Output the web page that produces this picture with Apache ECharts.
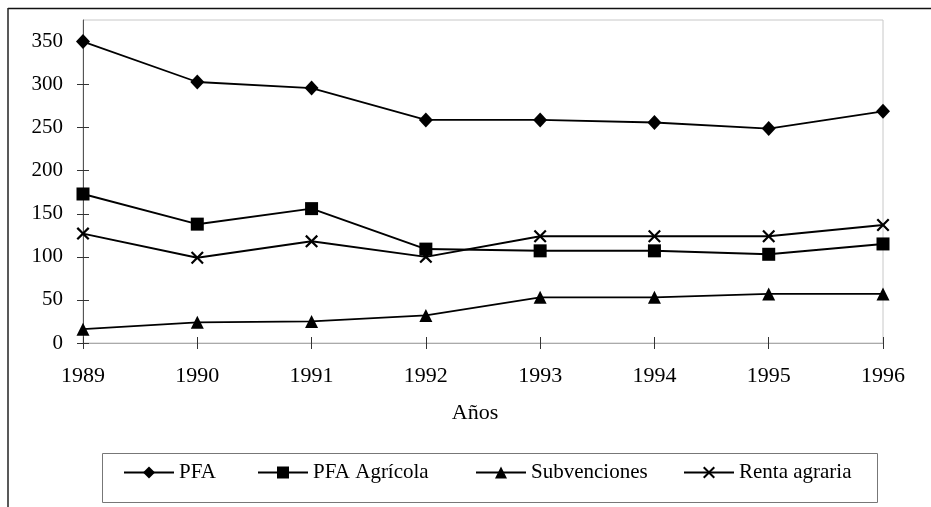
<!DOCTYPE html>
<html>
<head>
<meta charset="utf-8">
<script src="https://cdn.jsdelivr.net/npm/echarts@6/dist/echarts.min.js"></script>
<style>html,body{margin:0;padding:0;background:#fff}#c{width:931px;height:507px}</style>
</head>
<body>
<div id="c"></div>
<script>
var years = ['1989', '1990', '1991', '1992', '1993', '1994', '1995', '1996'];
var pfa = [350, 303, 296, 259, 259, 256, 249, 269];
var pfaAgricola = [173, 138, 156, 109, 107, 107, 103, 115];
var subvenciones = [16, 24, 25, 32, 53, 53, 57, 57];
var rentaAgraria = [127, 99, 118, 100, 124, 124, 124, 137];
var yTicks = [0, 50, 100, 150, 200, 250, 300, 350];
var seriesNames = ['PFA', 'PFA Agrícola', 'Subvenciones', 'Renta agraria'];

var FONT = '"Liberation Serif", "Times New Roman", serif';
var crossPath = 'path://M0,1.2 L1.2,0 L5,3.8 L8.8,0 L10,1.2 L6.2,5 L10,8.8 L8.8,10 L5,6.2 L1.2,10 L0,8.8 L3.8,5 Z';

function mkSeries(name, data, symbol, size, width) {
  return {
    name: name, type: 'line', data: data,
    xAxisIndex: 0, yAxisIndex: 0,
    symbol: symbol, symbolSize: size, showSymbol: true,
    lineStyle: { color: '#000', width: width },
    itemStyle: { color: '#000' },
    animation: false
  };
}

var legendLefts = [123, 257, 475, 683];
var legends = seriesNames.map(function (n, i) {
  return {
    data: [n], left: legendLefts[i], top: 462, padding: 0,
    itemWidth: 50, itemHeight: 15, itemGap: 0,
    textStyle: { fontFamily: FONT, fontSize: 21, color: '#000' },
    selectedMode: false
  };
});

var chart = echarts.init(document.getElementById('c'), null, { renderer: 'canvas' });
chart.setOption({
  backgroundColor: '#fff',
  animation: false,
  grid: { left: 83, right: 48, top: 20, bottom: 164, show: true, borderColor: '#c8c8c8', borderWidth: 1, containLabel: false },
  legend: legends,
  xAxis: [{
    type: 'category', data: years, boundaryGap: false,
    name: 'Años', nameLocation: 'middle', nameGap: 59,
    nameTextStyle: { fontFamily: FONT, fontSize: 22, color: '#000', padding: [0, 16, 0, 0] },
    axisLine: { show: true, lineStyle: { color: '#aaa', width: 1 } },
    axisTick: { show: true, inside: false, length: 6, alignWithLabel: true, lineStyle: { color: '#333' } },
    axisLabel: { fontFamily: FONT, fontSize: 22, color: '#000', margin: 22 },
    splitLine: { show: false }
  }, {
    type: 'category', data: years, boundaryGap: false, position: 'bottom',
    axisLine: { show: false },
    axisTick: { show: true, inside: true, length: 6, lineStyle: { color: '#333' } },
    axisLabel: { show: false },
    splitLine: { show: false }
  }],
  yAxis: [{
    type: 'value', min: 0, max: 375,
    axisLine: { show: true, lineStyle: { color: '#555', width: 1 } },
    axisTick: { show: true, inside: false, length: 6, customValues: yTicks, lineStyle: { color: '#333' } },
    axisLabel: { fontFamily: FONT, fontSize: 21, color: '#000', margin: 20, customValues: yTicks },
    splitLine: { show: false }
  }, {
    type: 'value', min: 0, max: 375, position: 'left',
    axisLine: { show: false },
    axisTick: { show: true, inside: true, length: 6, customValues: yTicks, lineStyle: { color: '#333' } },
    axisLabel: { show: false, customValues: yTicks },
    splitLine: { show: false }
  }],
  graphic: [
    { type: 'line', shape: { x1: 8, y1: 8.5, x2: 931, y2: 8.5 }, style: { stroke: '#111', lineWidth: 1.5 }, silent: true },
    { type: 'line', shape: { x1: 8, y1: 8, x2: 8, y2: 507 }, style: { stroke: '#222', lineWidth: 1.5 }, silent: true },
    { type: 'rect', shape: { x: 102.5, y: 453.5, width: 775, height: 49 }, style: { fill: 'none', stroke: '#777', lineWidth: 1 }, silent: true, z: -1 }
  ],
  series: [
    mkSeries(seriesNames[0], pfa, 'diamond', [14, 15], 1.8),
    mkSeries(seriesNames[1], pfaAgricola, 'rect', 13, 2),
    mkSeries(seriesNames[2], subvenciones, 'triangle', 13, 1.8),
    mkSeries(seriesNames[3], rentaAgraria, crossPath, 13, 2)
  ]
});
</script>
</body>
</html>
